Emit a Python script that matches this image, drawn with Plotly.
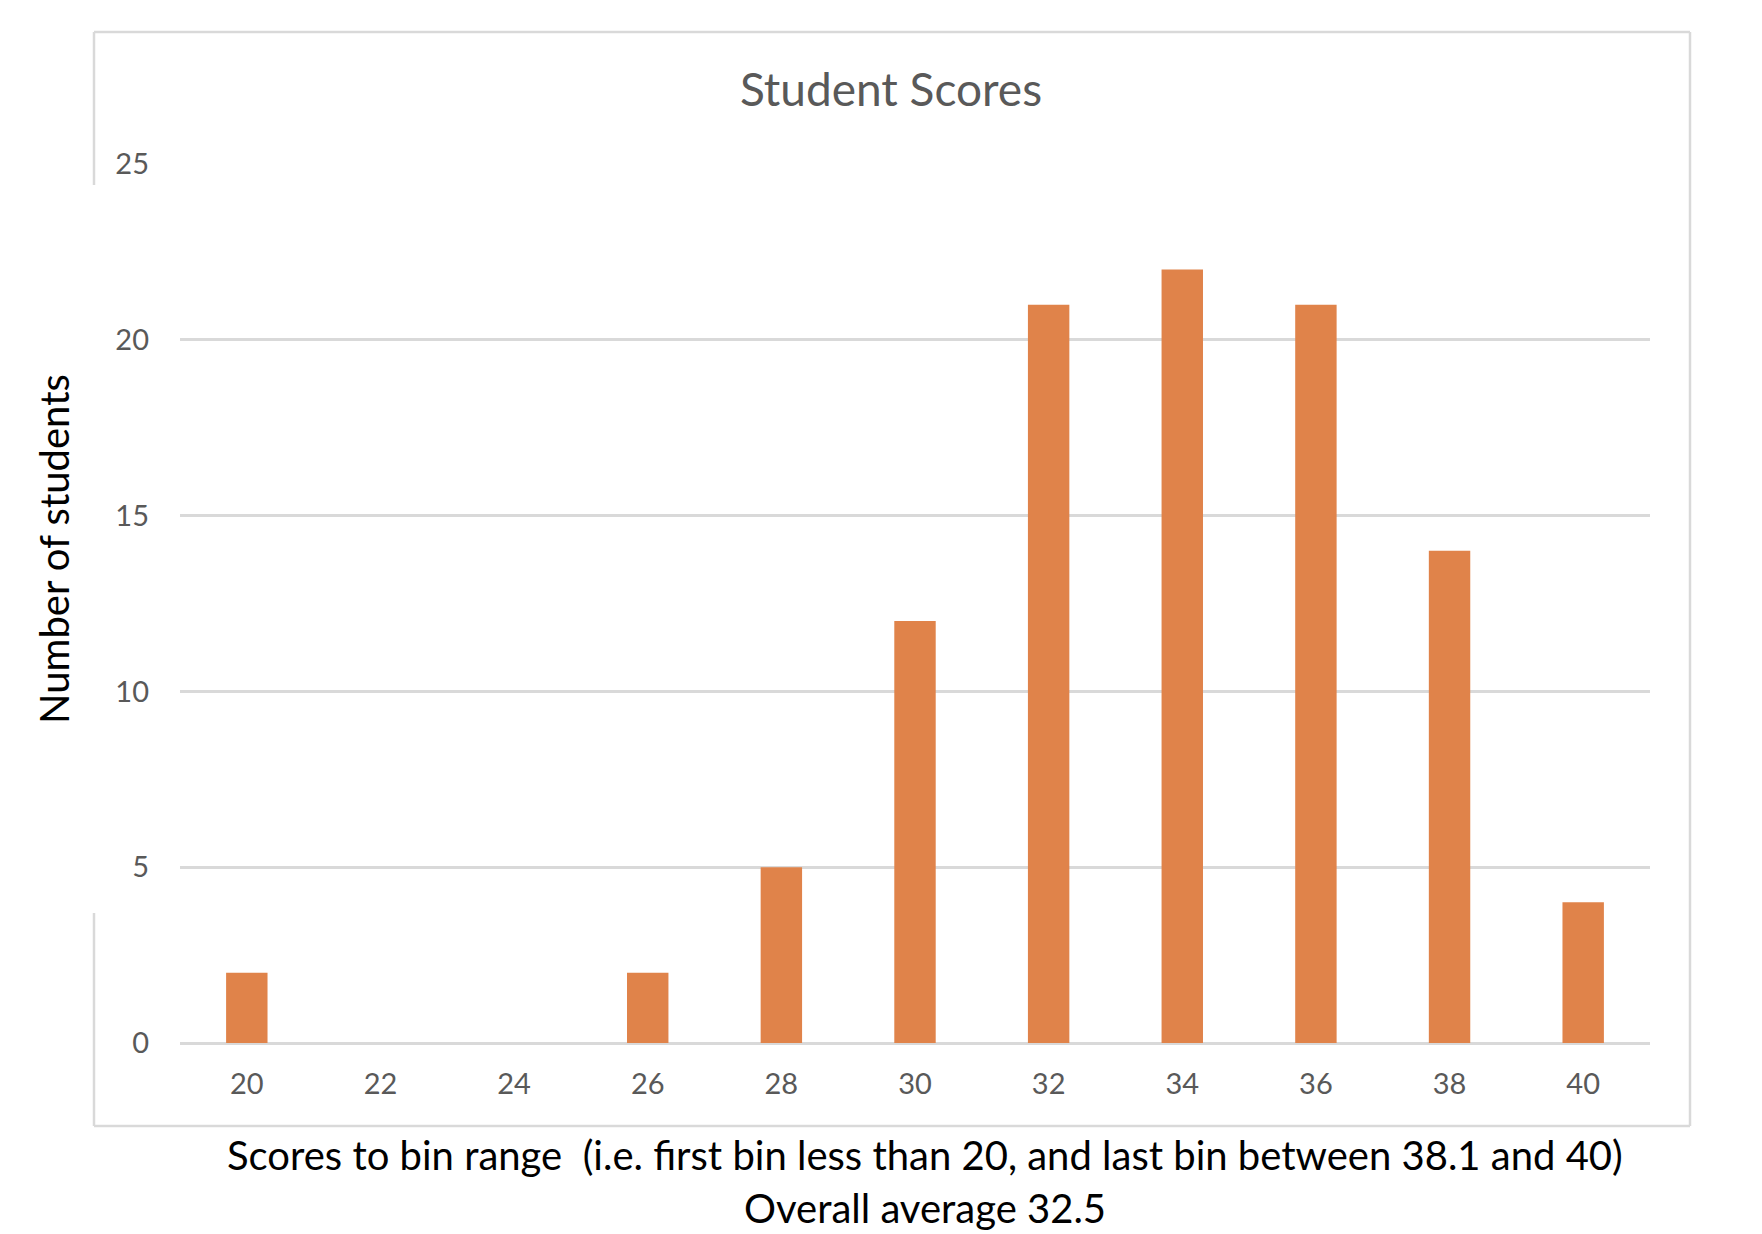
import plotly.graph_objects as go

# ---- data ----
bins = ["20", "22", "24", "26", "28", "30", "32", "34", "36", "38", "40"]
counts = [2, 0, 0, 2, 5, 12, 21, 22, 21, 14, 4]
y_ticks = [0, 5, 10, 15, 20, 25]

title_text = "Student Scores"
x_title_1 = "Scores to bin range  (i.e. first bin less than 20, and last bin between 38.1 and 40)"
x_title_2 = "Overall average 32.5"
y_title = "Number of students"

# ---- layout constants (pixels) ----
W, H = 1762, 1234
L, R, T, B = 180, 112, 164, 191
PW, PH = W - L - R, H - T - B

def px(x):
    return (x - L) / PW

def py(y):
    return (H - B - y) / PH

FONT = "Lato"
GREY = "#595959"
BORDER = "#d9d9d9"

fig = go.Figure()
fig.add_trace(go.Bar(
    x=bins, y=counts,
    marker=dict(color="#E0834A", line=dict(width=0)),
    showlegend=False,
))

shapes = []
def seg(x0, y0, x1, y1):
    shapes.append(dict(type="line", xref="paper", yref="paper",
                       x0=px(x0), y0=py(y0), x1=px(x1), y1=py(y1),
                       line=dict(color=BORDER, width=2.5), layer="below"))

bl, bt, br, bb = 94, 32, 1690, 1126
seg(bl, bt, br, bt)
seg(br, bt, br, bb)
seg(bl, bb, br, bb)
seg(bl, bt, bl, 185)
seg(bl, 913, bl, bb)

fig.update_layout(
    width=W, height=H,
    margin=dict(l=L, r=R, t=T, b=B, autoexpand=False),
    paper_bgcolor="white", plot_bgcolor="white",
    font=dict(family=FONT, color=GREY),
    bargap=0.69,
    title=dict(text=title_text, x=891 / W, xref="container", xanchor="center",
               y=1 - 90 / H, yref="container", yanchor="middle",
               font=dict(family=FONT, size=46, color=GREY)),
    xaxis=dict(type="category", range=[-0.5, 10.5], showgrid=False,
               showline=False, zeroline=False, ticks="",
               tickfont=dict(family=FONT, size=29, color=GREY),
               ticklabelstandoff=21, fixedrange=True),
    yaxis=dict(range=[0, 25], tickvals=y_ticks, showgrid=True,
               gridcolor=BORDER, gridwidth=2.5, zeroline=True,
               zerolinecolor=BORDER, zerolinewidth=2.5, showline=False,
               ticks="", tickfont=dict(family=FONT, size=29, color=GREY),
               ticklabelstandoff=30, fixedrange=True),
    shapes=shapes,
    annotations=[
        dict(text=x_title_1, xref="paper", yref="paper", x=px(925), y=py(1155),
             xanchor="center", yanchor="middle", showarrow=False,
             font=dict(family=FONT, size=40, color="black")),
        dict(text=x_title_2, xref="paper", yref="paper", x=px(925), y=py(1208),
             xanchor="center", yanchor="middle", showarrow=False,
             font=dict(family=FONT, size=40, color="black")),
        dict(text=y_title, xref="paper", yref="paper", x=px(54), y=py(549),
             xanchor="center", yanchor="middle", showarrow=False, textangle=-90,
             font=dict(family=FONT, size=40, color="black")),
    ],
)

fig.write_html("out.html", config={"displayModeBar": False})
